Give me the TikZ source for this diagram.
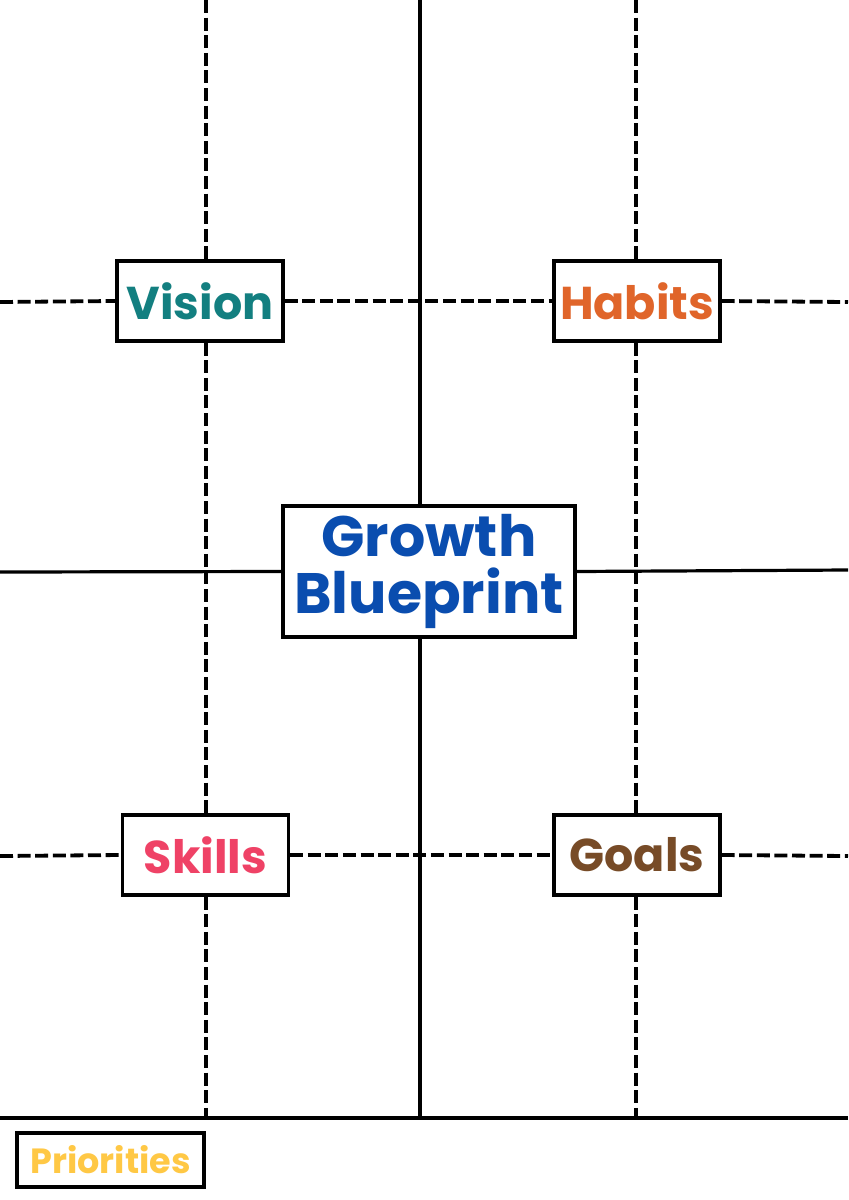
\documentclass[tikz,border=0pt]{standalone}
\usepackage{fontspec}
\setmainfont{Poppins}
\usetikzlibrary{positioning}
\definecolor{visioncol}{HTML}{137F80}
\definecolor{habitscol}{HTML}{E0652A}
\definecolor{growthcol}{HTML}{0A4DAF}
\definecolor{skillscol}{HTML}{EF4266}
\definecolor{goalscol}{HTML}{774B27}
\definecolor{prioritiescol}{HTML}{FFC845}
\tikzstyle{topic} = [rectangle, draw=black, line width=1.6pt, fill=white, minimum width=83pt, minimum height=40pt, inner sep=0pt, text centered, font=\fontsize{23}{23}\selectfont\bfseries]
\tikzstyle{hub} = [topic, minimum width=146pt, minimum height=65.5pt, align=center, font=\fontsize{28.5}{28.5}\selectfont\bfseries]
\tikzstyle{dashline} = [line width=1.9pt, dash pattern=on 6.5pt off 2.3pt]
\tikzstyle{solidline} = [line width=1.6pt]

\begin{document}
\begin{tikzpicture}[x=0.5pt, y=-0.5pt]
\useasboundingbox (0,0) rectangle (848,1200);
\node (vision) [topic, text=visioncol] at (200,301) {Vision};
\node (habits) [topic, text=habitscol] at (637,301) {Habits};
\node (growth) [hub, text=growthcol] at (429,571.5) {Growth\\Blueprint};
\node (skills) [topic, text=skillscol] at (205.5,855) {Skills};
\node (goals) [topic, text=goalscol] at (637,855) {Goals};
\node (priorities) [topic, text=prioritiescol, minimum width=93.5pt, minimum height=27pt, font=\fontsize{17.5}{17.5}\selectfont\bfseries] at (110.5,1160) {Priorities};
% grid ends
\coordinate (topL) at (206,0);
\coordinate (topM) at (420,0);
\coordinate (topR) at (636,0);
\coordinate (baseL) at (0,1118);
\coordinate (baseR) at (848,1118);
\coordinate (rowAL) at (0,302);
\coordinate (rowAR) at (848,302);
\coordinate (rowBL) at (0,572);
\coordinate (rowBR) at (848,570);
\coordinate (rowCL) at (0,856);
\coordinate (rowCR) at (848,856);
\draw [solidline] (baseL) -- (baseR);
\draw [dashline] (topL) -- (topL |- vision.north);
\draw [dashline] (topL |- vision.south) -- (topL |- skills.north);
\draw [dashline] (topL |- skills.south) -- (topL |- baseL);
\draw [dashline] (topR) -- (topR |- habits.north);
\draw [dashline] (topR |- habits.south) -- (topR |- goals.north);
\draw [dashline] (topR |- goals.south) -- (topR |- baseL);
\draw [solidline] (topM) -- (topM |- growth.north);
\draw [solidline] (topM |- growth.south) -- (topM |- baseL);
\draw [dashline] (rowAL) -- (vision.west);
\draw [dashline] (vision.east) -- (habits.west);
\draw [dashline] (habits.east) -- (rowAR);
\draw [dashline] (rowCL) -- (skills.west);
\draw [dashline] (skills.east) -- (goals.west);
\draw [dashline] (goals.east) -- (rowCR);
\draw [solidline] (rowBL) -- (growth.west);
\draw [solidline] (growth.east) -- (rowBR);
\end{tikzpicture}
\end{document}
